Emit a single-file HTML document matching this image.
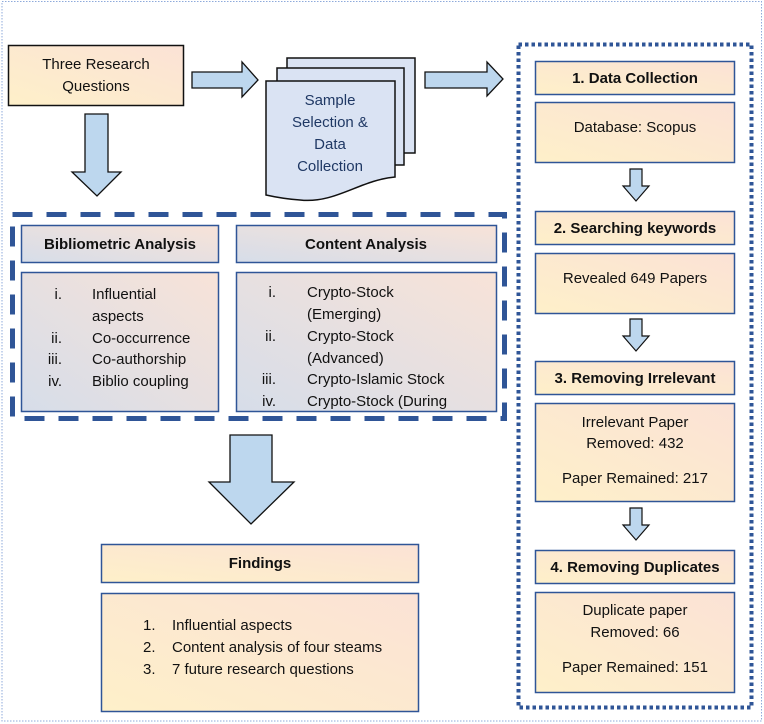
<!DOCTYPE html>
<html><head><meta charset="utf-8"><style>
html,body{margin:0;padding:0;background:#fff}
svg{display:block}
text{font-family:"Liberation Sans",sans-serif;font-size:15px;fill:#111}
.b{font-weight:bold}
</style></head><body>
<svg width="764" height="724" viewBox="0 0 764 724" xmlns="http://www.w3.org/2000/svg">
<defs>
<linearGradient id="yp" x1="0" y1="1" x2="1" y2="0"><stop offset="0" stop-color="#fef0c9"/><stop offset="1" stop-color="#fbe2d6"/></linearGradient>
<linearGradient id="bp" x1="0" y1="1" x2="1" y2="0"><stop offset="0" stop-color="#d6dde9"/><stop offset="1" stop-color="#f8e3d8"/></linearGradient>
<clipPath id="c1"><rect x="236" y="272" width="260" height="138"/></clipPath>
</defs>
<rect x="2" y="1.5" width="759.5" height="719.5" fill="none" stroke="#8eaadb" stroke-width="1" stroke-dasharray="1.5 1.5"/>

<rect x="8.5" y="45.5" width="175" height="60" fill="url(#yp)" stroke="#111" stroke-width="1.5"/>
<text x="96" y="69" text-anchor="middle">Three Research</text>
<text x="96" y="91" text-anchor="middle">Questions</text>

<path d="M192,72 H242 V62 L258,80 L242,97 V88 H192 Z" fill="#bdd7ee" stroke="#111" stroke-width="1.3"/>
<path d="M425,72 H487 V62 L503,79 L487,96 V88 H425 Z" fill="#bdd7ee" stroke="#111" stroke-width="1.3"/>
<path d="M85,114 H108 V172 H121 L97,196 L72,172 H85 Z" fill="#bdd7ee" stroke="#111" stroke-width="1.3"/>
<path d="M230,435 H272 V482 H294 L251,524 L209,482 H230 Z" fill="#bdd7ee" stroke="#111" stroke-width="1.3"/>

<rect x="287" y="58" width="128" height="95" fill="#dae3f3" stroke="#111" stroke-width="1.5"/>
<rect x="277" y="68" width="127" height="97" fill="#dae3f3" stroke="#111" stroke-width="1.5"/>
<path d="M266,81 H395 V177 C360,180 335,204 300,200 C285,199 275,197 266,195 Z" fill="#dae3f3" stroke="#111" stroke-width="1.5"/>
<text x="330" y="105" text-anchor="middle" style="fill:#1f3864">Sample</text>
<text x="330" y="127" text-anchor="middle" style="fill:#1f3864">Selection &amp;</text>
<text x="330" y="149" text-anchor="middle" style="fill:#1f3864">Data</text>
<text x="330" y="171" text-anchor="middle" style="fill:#1f3864">Collection</text>

<rect x="12.5" y="214.5" width="492" height="204" fill="none" stroke="#2f5597" stroke-width="5" stroke-dasharray="20 14"/>
<rect x="21.5" y="225.5" width="197" height="37" fill="url(#bp)" stroke="#2f5597" stroke-width="1.5"/>
<text x="120" y="249" text-anchor="middle" class="b">Bibliometric Analysis</text>
<rect x="236.5" y="225.5" width="260" height="37" fill="url(#bp)" stroke="#2f5597" stroke-width="1.5"/>
<text x="366" y="249" text-anchor="middle" class="b">Content Analysis</text>
<rect x="21.5" y="272.5" width="197" height="139" fill="url(#bp)" stroke="#2f5597" stroke-width="1.5"/>
<g text-anchor="end">
<text x="62" y="299">i.</text><text x="62" y="343">ii.</text><text x="62" y="364">iii.</text><text x="62" y="386">iv.</text>
</g>
<text x="92" y="299">Influential</text><text x="92" y="321">aspects</text>
<text x="92" y="343">Co-occurrence</text><text x="92" y="364">Co-authorship</text><text x="92" y="386">Biblio coupling</text>
<rect x="236.5" y="272.5" width="260" height="139" fill="url(#bp)" stroke="#2f5597" stroke-width="1.5"/>
<g clip-path="url(#c1)">
<g text-anchor="end">
<text x="276" y="297">i.</text><text x="276" y="341">ii.</text><text x="276" y="384">iii.</text><text x="276" y="406">iv.</text>
</g>
<text x="307" y="297">Crypto-Stock</text><text x="307" y="319">(Emerging)</text>
<text x="307" y="341">Crypto-Stock</text><text x="307" y="363">(Advanced)</text>
<text x="307" y="384">Crypto-Islamic Stock</text><text x="307" y="406">Crypto-Stock (During</text>
</g>

<rect x="101.5" y="544.5" width="317" height="38" fill="url(#yp)" stroke="#2f5597" stroke-width="1.5"/>
<text x="260" y="568" text-anchor="middle" class="b">Findings</text>
<rect x="101.5" y="593.5" width="317" height="118" fill="url(#yp)" stroke="#2f5597" stroke-width="1.5"/>
<text x="143" y="630">1.</text><text x="172" y="630">Influential aspects</text>
<text x="143" y="652">2.</text><text x="172" y="652">Content analysis of four steams</text>
<text x="143" y="674">3.</text><text x="172" y="674">7 future research questions</text>

<rect x="518.5" y="44.5" width="233" height="663" fill="none" stroke="#2f5597" stroke-width="4" stroke-dasharray="3.5 3"/>
<g stroke="#2f5597" stroke-width="1.5" fill="url(#yp)">
<rect x="535.5" y="61.5" width="199" height="33"/>
<rect x="535.5" y="102.5" width="199" height="60"/>
<rect x="535.5" y="211.5" width="199" height="33"/>
<rect x="535.5" y="253.5" width="199" height="60"/>
<rect x="535.5" y="361.5" width="199" height="33"/>
<rect x="535.5" y="403.5" width="199" height="98"/>
<rect x="535.5" y="550.5" width="199" height="33"/>
<rect x="535.5" y="592.5" width="199" height="100"/>
</g>
<g fill="#bdd7ee" stroke="#111" stroke-width="1.2">
<path d="M630,169 H642 V186 H649 L636,201 L623,186 H630 Z"/>
<path d="M630,319 H642 V336 H649 L636,351 L623,336 H630 Z"/>
<path d="M630,508 H642 V525 H649 L636,540 L623,525 H630 Z"/>
</g>
<g text-anchor="middle">
<text x="635" y="83" class="b">1. Data Collection</text>
<text x="635" y="132">Database: Scopus</text>
<text x="635" y="233" class="b">2. Searching keywords</text>
<text x="635" y="283">Revealed 649 Papers</text>
<text x="635" y="383" class="b">3. Removing Irrelevant</text>
<text x="635" y="427">Irrelevant Paper</text>
<text x="635" y="448">Removed: 432</text>
<text x="635" y="483">Paper Remained: 217</text>
<text x="635" y="572" class="b">4. Removing Duplicates</text>
<text x="635" y="615">Duplicate paper</text>
<text x="635" y="637">Removed: 66</text>
<text x="635" y="672">Paper Remained: 151</text>
</g>
</svg>
</body></html>
